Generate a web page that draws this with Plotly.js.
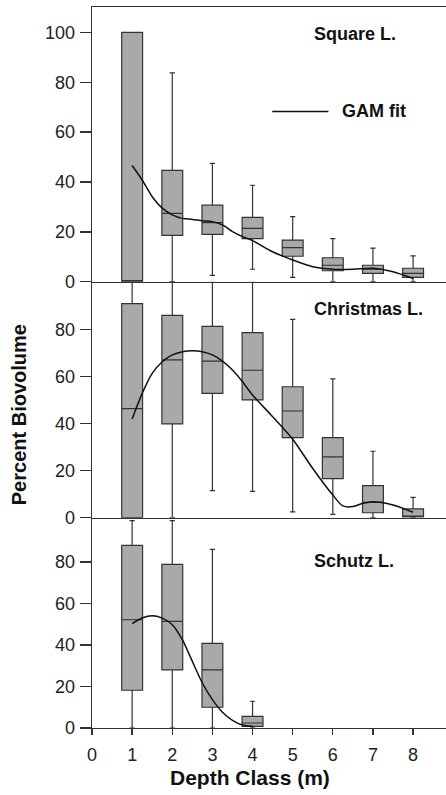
<!DOCTYPE html>
<html>
<head>
<meta charset="utf-8">
<script src="https://cdn.plot.ly/plotly-3.0.1.min.js"></script>
<style>html,body{margin:0;padding:0;background:#fff;}#chart{width:446px;height:795px;}</style>
</head>
<body>
<div id="chart"></div>
<script>
// Depth classes (m)
const depth = [1, 2, 3, 4, 5, 6, 7, 8];
const depthSchutz = [1, 2, 3, 4];
const xTicks = [0, 1, 2, 3, 4, 5, 6, 7, 8];

// Square L. box statistics
const sqLow = [0, 0, 2.5, 5.0, 1.7, 0, 0, 0];
const sqQ1 = [0, 18.6, 19.0, 17.3, 10.2, 4.4, 3.3, 1.7];
const sqMed = [0, 27.4, 23.7, 21.4, 13.7, 6.6, 5.0, 3.3];
const sqQ3 = [100, 44.7, 30.7, 25.8, 16.7, 9.6, 6.6, 5.4];
const sqHigh = [100, 83.8, 47.5, 38.7, 26.1, 17.3, 13.5, 10.4];

// Christmas L. box statistics
const chLow = [0, 0, 11.5, 11.2, 2.5, 1.4, 0, 0];
const chQ1 = [0, 39.8, 52.8, 50.0, 34.0, 16.6, 2.1, 0.3];
const chMed = [46.3, 67.0, 66.5, 62.6, 45.3, 25.8, 6.5, 0.7];
const chQ3 = [90.9, 85.9, 81.2, 78.6, 55.6, 34.0, 13.6, 3.7];
const chHigh = [100, 100, 100, 100, 84.2, 58.9, 28.2, 8.6];

// Schutz L. box statistics
const scLow = [0, 0, 0, 0];
const scQ1 = [18.2, 28.0, 10.0, 0.8];
const scMed = [52.2, 51.4, 28.0, 2.4];
const scQ3 = [88.0, 78.9, 40.8, 5.6];
const scHigh = [100, 100, 86.1, 12.9];

// GAM fits
const gamSqX = [1.0, 1.25, 1.5, 1.75, 2.0, 2.25, 2.5, 2.75, 3.0, 3.25, 3.5, 3.75, 4.0, 4.5, 5.0, 5.5, 6.0, 6.5, 7.0, 7.5, 8.0];
const gamSqY = [46.6, 40.8, 34.1, 29.5, 26.8, 25.4, 25.0, 24.5, 24.1, 22.8, 20.1, 18.1, 16.5, 12.0, 8.7, 6.0, 5.0, 5.0, 5.4, 4.0, 1.3];
const gamChX = [1.0, 1.25, 1.5, 1.75, 2.0, 2.25, 2.5, 2.75, 3.0, 3.25, 3.5, 3.75, 4.0, 4.5, 5.0, 5.5, 6.0, 6.25, 6.5, 6.75, 7.0, 7.5, 8.0];
const gamChY = [41.9, 52.8, 61.3, 66.2, 69.1, 70.5, 70.9, 70.5, 69.1, 66.5, 62.7, 57.7, 52.1, 42.9, 33.3, 20.9, 9.6, 5.0, 4.7, 6.1, 6.8, 5.4, 2.3];
const gamScX = [1.0, 1.25, 1.5, 1.75, 2.0, 2.25, 2.5, 2.75, 3.0, 3.25, 3.5, 3.75, 4.0];
const gamScY = [50.3, 53.0, 54.1, 53.0, 49.8, 42.6, 32.1, 21.7, 13.7, 7.6, 3.7, 1.4, 0.8];

const lakeNames = ['Square L.', 'Christmas L.', 'Schutz L.'];

const FONT = 'Liberation Sans, Arial, Helvetica, sans-serif';
const boxStyle = {
  type: 'box', boxpoints: false, width: 0.52, whiskerwidth: 0.25,
  fillcolor: '#a9a9a9', line: {color: '#333', width: 1.2}, hoverinfo: 'skip'
};
const gamStyle = {type: 'scatter', mode: 'lines', line: {color: '#111', width: 1.5, shape: 'spline', smoothing: 0.8}, hoverinfo: 'skip'};

const data = [
  Object.assign({}, boxStyle, {x: depth, q1: sqQ1, median: sqMed, q3: sqQ3, lowerfence: sqLow, upperfence: sqHigh, xaxis: 'x', yaxis: 'y'}),
  Object.assign({}, gamStyle, {x: gamSqX, y: gamSqY, xaxis: 'x', yaxis: 'y'}),
  Object.assign({}, boxStyle, {x: depth, q1: chQ1, median: chMed, q3: chQ3, lowerfence: chLow, upperfence: chHigh, xaxis: 'x2', yaxis: 'y2'}),
  Object.assign({}, gamStyle, {x: gamChX, y: gamChY, xaxis: 'x2', yaxis: 'y2'}),
  Object.assign({}, boxStyle, {x: depthSchutz, q1: scQ1, median: scMed, q3: scQ3, lowerfence: scLow, upperfence: scHigh, xaxis: 'x3', yaxis: 'y3'}),
  Object.assign({}, gamStyle, {x: gamScX, y: gamScY, xaxis: 'x3', yaxis: 'y3'})
];

const axLine = {showline: true, linecolor: '#333', linewidth: 1.3, showgrid: false, zeroline: false};
const yBase = Object.assign({}, axLine, {ticks: 'outside', ticklen: 11, tickwidth: 1.3, tickcolor: '#333',
  tickfont: {family: FONT, size: 18, color: '#222'}, ticklabelstandoff: 1, fixedrange: true});

const layout = {
  width: 446, height: 795,
  margin: {l: 92, r: 0, t: 7, b: 67},
  paper_bgcolor: '#fff', plot_bgcolor: '#fff',
  showlegend: false,
  font: {family: FONT, color: '#222'},
  xaxis: Object.assign({}, axLine, {range: [0, 8.82], anchor: 'y', mirror: true, showticklabels: false, ticks: '', fixedrange: true}),
  xaxis2: Object.assign({}, axLine, {matches: 'x', anchor: 'y2', showticklabels: false, ticks: '', fixedrange: true}),
  xaxis3: Object.assign({}, axLine, {matches: 'x', anchor: 'y3', tickvals: xTicks, ticktext: xTicks.map(String),
    ticks: 'outside', ticklen: 6, tickwidth: 1.3, tickcolor: '#333', ticklabelstandoff: 4,
    tickfont: {family: FONT, size: 18, color: '#222'}, fixedrange: true}),
  yaxis: Object.assign({}, yBase, {domain: [0.619, 1], range: [0, 110.2], tickvals: [0, 20, 40, 60, 80, 100], anchor: 'x'}),
  yaxis2: Object.assign({}, yBase, {domain: [0.2917, 0.619], range: [0, 100.2], tickvals: [0, 20, 40, 60, 80], anchor: 'x2'}),
  yaxis3: Object.assign({}, yBase, {domain: [0, 0.2917], range: [0, 101.4], tickvals: [0, 20, 40, 60, 80], anchor: 'x3'}),
  shapes: [
    {type: 'line', xref: 'x', yref: 'y', x0: 4.49, x1: 5.89, y0: 68.3, y1: 68.3, line: {color: '#111', width: 1.5}}
  ],
  annotations: [
    {text: '<b>' + lakeNames[0] + '</b>', xref: 'x', yref: 'y', x: 5.49, y: 99.3, xanchor: 'left', yanchor: 'middle', showarrow: false, font: {family: FONT, size: 18, color: '#111'}},
    {text: '<b>' + lakeNames[1] + '</b>', xref: 'x2', yref: 'y2', x: 5.49, y: 88.6, xanchor: 'left', yanchor: 'middle', showarrow: false, font: {family: FONT, size: 18, color: '#111'}},
    {text: '<b>' + lakeNames[2] + '</b>', xref: 'x3', yref: 'y3', x: 5.49, y: 80.6, xanchor: 'left', yanchor: 'middle', showarrow: false, font: {family: FONT, size: 18, color: '#111'}},
    {text: '<b>GAM fit</b>', xref: 'x', yref: 'y', x: 6.18, y: 68.3, xanchor: 'left', yanchor: 'middle', showarrow: false, font: {family: FONT, size: 18, color: '#111'}},
    {text: '<b>Percent Biovolume</b>', xref: 'paper', yref: 'paper', x: -0.2076, y: 0.4345, xanchor: 'center', yanchor: 'middle', textangle: -90, showarrow: false, font: {family: FONT, size: 20, color: '#111'}},
    {text: '<b>Depth Class (m)</b>', xref: 'x3', yref: 'paper', x: 3.935, y: -0.068, xanchor: 'center', yanchor: 'middle', showarrow: false, font: {family: FONT, size: 21, color: '#111'}}
  ]
};

Plotly.newPlot('chart', data, layout, {staticPlot: true, displayModeBar: false});
</script>
</body>
</html>
